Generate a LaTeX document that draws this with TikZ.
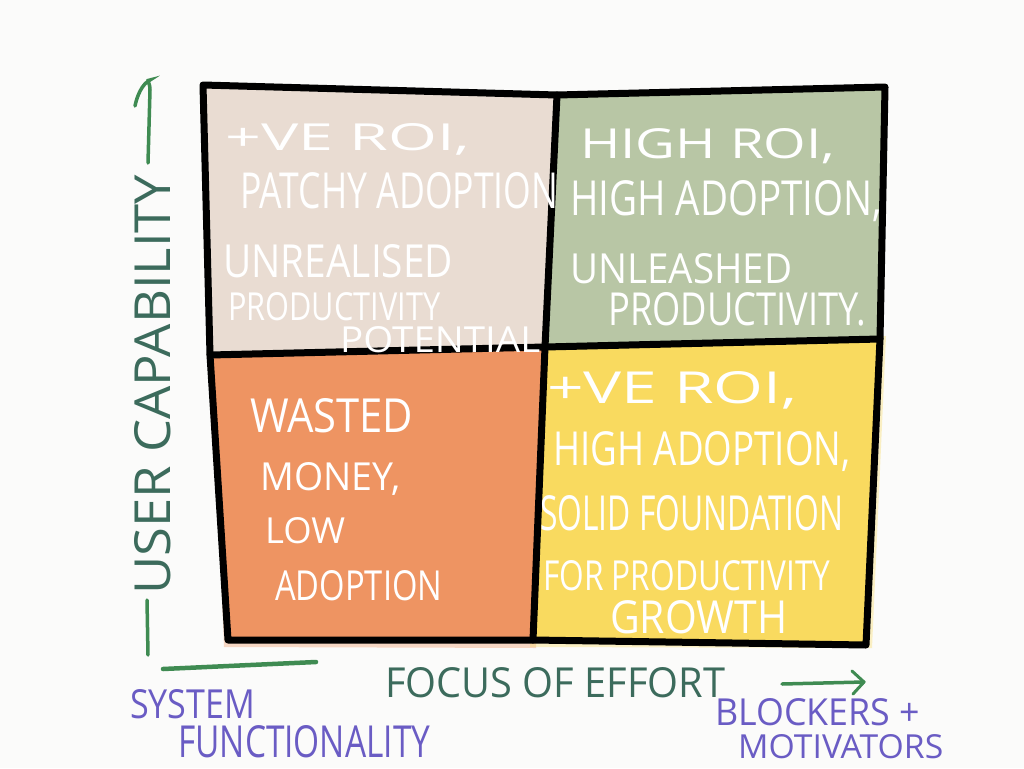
\documentclass[tikz,border=0pt]{standalone}
\usepackage{fontspec}
\usepackage{graphicx}
\newfontfamily\hand{Open Sans}
\newcommand\hw[3]{\resizebox{#1pt}{#2pt}{\hand #3}}
\definecolor{paper}{HTML}{FBFBFA}
\definecolor{qtl}{HTML}{E9DCD2}
\definecolor{qtr}{HTML}{B8C6A5}
\definecolor{qbl}{HTML}{EE9462}
\definecolor{qbr}{HTML}{F9DA5F}
\definecolor{axtext}{HTML}{3C6B5C}
\definecolor{axline}{HTML}{3F8B52}
\definecolor{purp}{HTML}{6A5CC4}
\tikzset{
  border/.style={line width=7pt, line join=round, line cap=round, black},
  qtext/.style={anchor=base west, inner sep=0pt, text=white},
  axlabel/.style={anchor=base west, inner sep=0pt, text=axtext},
  polelabel/.style={anchor=base west, inner sep=0pt, text=purp},
  axarrow/.style={line width=4.5pt, line cap=round, axline}
}
\begin{document}
\begin{tikzpicture}[x=1pt,y=-1pt]
\useasboundingbox (0,0) rectangle (1024,768);
\fill[paper] (0,0) rectangle (1024,768);
% grid corners
\coordinate (TL) at (203,85);
\coordinate (TM) at (557,95);
\coordinate (TR) at (885,87);
\coordinate (ML) at (210,355);
\coordinate (MM) at (545,347);
\coordinate (MR) at (880,339);
\coordinate (BL) at (228,640);
\coordinate (BM) at (533,640);
\coordinate (BR) at (866,645);
% quadrant fills (with a light watercolour bleed)
\fill[qbl, opacity=0.35] (212,352) -- (548,344) -- (536,648) -- (224,647) -- cycle;
\fill[qbr, opacity=0.35] (545,340) -- (886,336) -- (872,648) -- (530,647) -- cycle;
\fill[qtl] (TL) -- (TM) -- (MM) -- (ML) -- cycle;
\fill[qtr] (TM) -- (TR) -- (MR) -- (MM) -- cycle;
\fill[qbl] (ML) -- (MM) -- (BM) -- (BL) -- cycle;
\fill[qbr] (MM) -- (MR) -- (BR) -- (BM) -- cycle;
% borders
\draw[border] (TL) -- (TM) -- (TR) -- (MR) -- (BR) -- (BM) -- (BL) -- (ML) -- cycle;
\draw[border] (TM) -- (MM) -- (BM);
\draw[border] (ML) -- (MM) -- (MR);
% top-left text
\node[qtext] (tl1) at (225,150) {\hw{245}{27}{+VE ROI,}};
\node[qtext] (tl2) at (240,208) {\hw{318}{36}{PATCHY ADOPTION}};
\node[qtext] (tl3) at (223,277) {\hw{230}{33}{UNREALISED}};
\node[qtext] (tl4) at (228,320) {\hw{212}{28}{PRODUCTIVITY}};
\node[qtext] (tl5) at (340,352) {\hw{200}{26}{POTENTIAL}};
% top-right text
\node[qtext] (tr1) at (580,158) {\hw{255}{30}{HIGH ROI,}};
\node[qtext] (tr2) at (570,215) {\hw{312}{35}{HIGH ADOPTION,}};
\node[qtext] (tr3) at (570,283) {\hw{222}{30}{UNLEASHED}};
\node[qtext] (tr4) at (608,325) {\hw{258}{33}{PRODUCTIVITY.}};
% bottom-left text
\node[qtext] (bl1) at (250,432) {\hw{163}{34}{WASTED}};
\node[qtext] (bl2) at (260,490) {\hw{140}{28}{MONEY,}};
\node[qtext] (bl3) at (265,543) {\hw{80}{26}{LOW}};
\node[qtext] (bl4) at (275,600) {\hw{167}{30}{ADOPTION}};
% bottom-right text
\node[qtext] (br1) at (547,403) {\hw{250}{32}{+VE ROI,}};
\node[qtext] (br2) at (553,465) {\hw{297}{34}{HIGH ADOPTION,}};
\node[qtext] (br3) at (540,530) {\hw{303}{35}{SOLID FOUNDATION}};
\node[qtext] (br4) at (543,590) {\hw{287}{30}{FOR PRODUCTIVITY}};
\node[qtext] (br5) at (610,633) {\hw{177}{33}{GROWTH}};
% vertical axis
\node[axlabel, rotate=90] (yl) at (170,595) {\hw{420}{36}{USER CAPABILITY}};
\coordinate (ytop) at (150,80);
\coordinate (ybot) at (148,163);
\draw[line width=3.5pt, line cap=round, axline] (ybot) -- (150,90) .. controls (150,82) and (146,80) .. (ytop) .. controls (142,84) and (137,96) .. (135,106);
\draw[line width=3.5pt, line cap=round, axline] (147,600) -- (148,655);
% horizontal axis
\draw[axarrow] (163,669) -- (316,662);
\node[axlabel] (xl) at (385,697) {\hw{340}{30}{FOCUS OF EFFORT}};
\coordinate (xs) at (782,684);
\coordinate (xe) at (864,682);
\draw[axarrow, line width=3.5pt] (xs) -- (xe);
\draw[line width=3pt, line cap=round, line join=round, axline] (852,671) -- (xe) -- (853,694);
% pole labels
\node[polelabel] (p1) at (130,718) {\hw{125}{29}{SYSTEM}};
\node[polelabel] (p2) at (178,757) {\hw{252}{32}{FUNCTIONALITY}};
\node[polelabel] (p3) at (715,725) {\hw{205}{27}{BLOCKERS +}};
\node[polelabel] (p4) at (738,758) {\hw{205}{24}{MOTIVATORS}};
\end{tikzpicture}
\end{document}
